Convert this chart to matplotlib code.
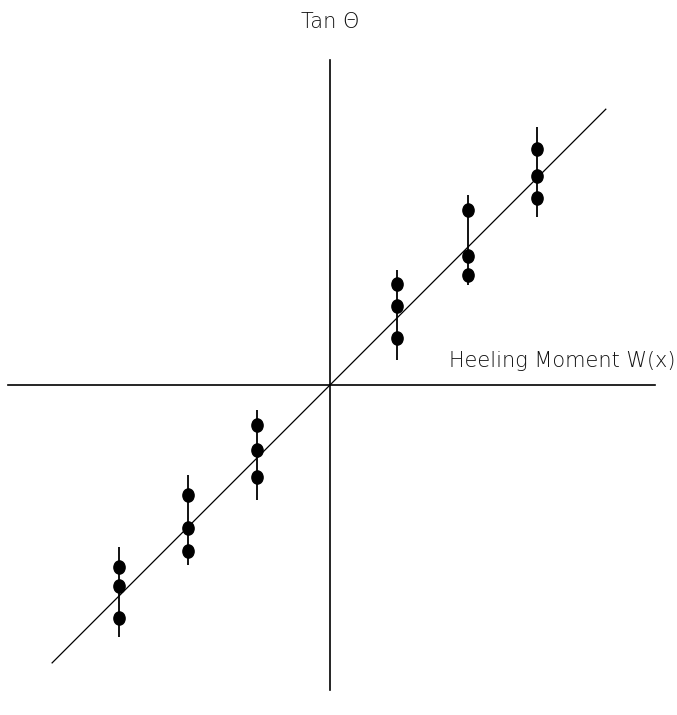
import numpy as np
import matplotlib
matplotlib.use("Agg")
import matplotlib.pyplot as plt
from matplotlib.path import Path
from matplotlib.transforms import Affine2D

# heeling moment positions (arbitrary units)
moment = [-3.01, -2.03, -1.04, 0.96, 1.97, 2.96]
# three measured tan(theta) readings per moment
tan_a = [-2.60, -1.57, -0.57, 1.44, 2.50, 3.37]
tan_b = [-2.87, -2.04, -0.93, 1.13, 1.84, 2.99]
tan_c = [-3.33, -2.37, -1.31, 0.67, 1.57, 2.67]
# error bar extents
err_lo = [-3.60, -2.57, -1.64, 0.36, 1.43, 2.40]
err_hi = [-2.31, -1.29, -0.36, 1.64, 2.71, 3.69]
# fitted line
fit_x = [-3.97, 3.94]
slope = 1.0

fig = plt.figure(figsize=(6.77, 7.15), dpi=100)
ax = fig.add_axes([0, 0, 1, 1])
ax.set_xlim(-330 / 70, 347 / 70)
ax.set_ylim(-330 / 70, 385 / 70)
ax.axis("off")

# axes through origin
ax.plot([-4.6, 4.64], [0, 0], color="black", lw=1.2)
ax.plot([0, 0], [-4.36, 4.64], color="black", lw=1.2)

# fitted line
fx = np.array(fit_x)
ax.plot(fx, slope * fx, color="black", lw=0.9)

# error bars
ax.vlines(moment, err_lo, err_hi, color="black", lw=1.3)

# slightly tall ellipse marker
ell = Path.unit_circle().transformed(Affine2D().scale(0.85, 1.0))
for ys in (tan_a, tan_b, tan_c):
    ax.plot(moment, ys, linestyle="none", marker=ell, markersize=9.5,
            color="black")

ax.text(0, 5.19, "Tan \u0398", ha="center", va="center", fontsize=15,
        color="#111111", fontweight="light")
ax.text(4.94, 0.34, "Heeling Moment W(x)", ha="right", va="center",
        fontsize=15, color="#111111", fontweight="light")

plt.savefig("out.png", dpi=100)
